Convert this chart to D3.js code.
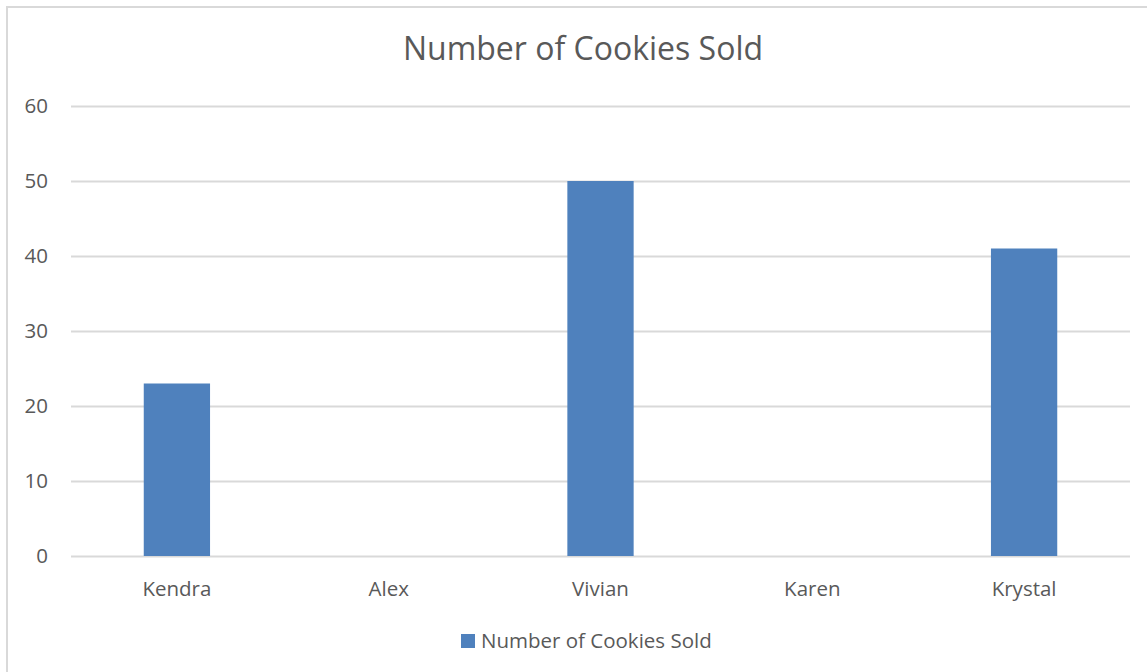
<!DOCTYPE html>
<html lang="en">
<head>
<meta charset="UTF-8">
<title>Number of Cookies Sold</title>
<script src="https://d3js.org/d3.v7.min.js"></script>
<style>
html, body {
  margin: 0;
  padding: 0;
  background: white;
}
body {
  font-family: 'Open Sans', sans-serif;
}
.axis text {
  fill: #595959;
  font-size: 20.5px;
  font-family: 'Open Sans', sans-serif;
}
.axis path, .axis line {
  stroke: none;
}
.grid line {
  stroke: #d9d9d9;
  stroke-width: 2;
}
.grid path {
  stroke: none;
}
</style>
</head>
<body>
<div id="chart"></div>
<script>

// data
const names = ["Kendra", "Alex", "Vivian", "Karen", "Krystal"];
const cookies = [23, 0, 50, 0, 41];
const yTicks = [0, 10, 20, 30, 40, 50, 60];
const seriesName = "Number of Cookies Sold";

const totalWidth = 1147, totalHeight = 672;
const margin = {top: 106, right: 17, bottom: 116, left: 71};

const svg = d3.select("#chart").append("svg")
  .attr("width", totalWidth)
  .attr("height", totalHeight);

// chart frame
svg.append("rect")
  .attr("x", 7).attr("y", 7)
  .attr("width", totalWidth + 20).attr("height", totalHeight + 20)
  .attr("fill", "white")
  .attr("stroke", "#d9d9d9")
  .attr("stroke-width", 2);

// scales
const x = d3.scaleBand()
  .domain(names)
  .range([margin.left, totalWidth - margin.right])
  .paddingInner(0.687)
  .paddingOuter(0.3435);

const y = d3.scaleLinear()
  .domain([0, 60])
  .range([totalHeight - margin.bottom, margin.top]);

// gridlines
svg.append("g")
  .attr("class", "grid")
  .attr("transform", `translate(${margin.left},0)`)
  .call(d3.axisLeft(y).tickValues(yTicks).tickSize(-(totalWidth - margin.right - margin.left)).tickFormat(""));

// bars
svg.selectAll(".bar")
  .data(names)
  .join("rect")
  .attr("class", "bar")
  .attr("x", d => x(d))
  .attr("width", x.bandwidth())
  .attr("y", (d, i) => y(cookies[i]))
  .attr("height", (d, i) => y(0) - y(cookies[i]))
  .attr("fill", "#4f81bd");

// axes
svg.append("g")
  .attr("class", "axis")
  .attr("transform", `translate(${margin.left - 23},0)`)
  .call(d3.axisLeft(y).tickValues(yTicks).tickSize(0).tickPadding(0));

svg.append("g")
  .attr("class", "axis")
  .attr("transform", `translate(0,${y(0) + 17})`)
  .call(d3.axisBottom(x).tickSize(0).tickPadding(8));

// title
svg.append("text")
  .attr("x", 583)
  .attr("y", 60)
  .attr("text-anchor", "middle")
  .attr("fill", "#595959")
  .style("font-size", "32px")
  .text("Number of Cookies Sold");

// legend
const legend = svg.append("g").attr("transform", "translate(461,634)");
legend.append("rect")
  .attr("width", 14).attr("height", 14)
  .attr("fill", "#4f81bd");
legend.append("text")
  .attr("x", 20)
  .attr("y", 14)
  .attr("fill", "#595959")
  .style("font-size", "20.5px")
  .text(seriesName);

</script>
</body>
</html>
